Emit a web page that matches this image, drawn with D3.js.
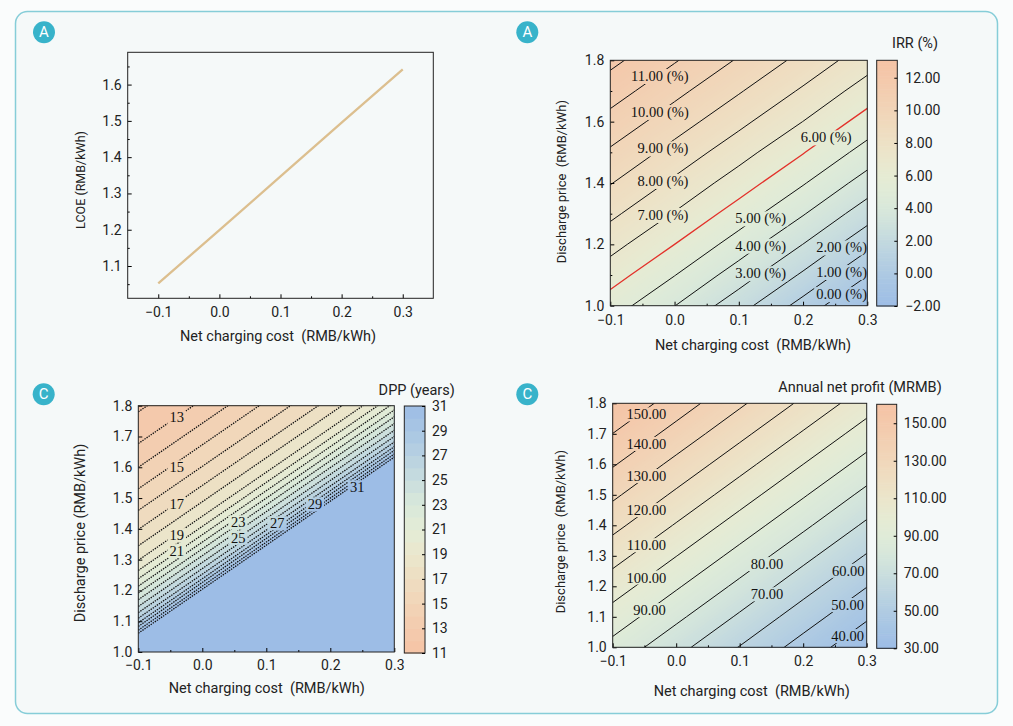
<!DOCTYPE html>
<html>
<head>
<meta charset="utf-8">
<script src="https://cdn.jsdelivr.net/npm/d3@7"></script>
<style>
  body { margin: 0; background: #fafcfc; }
  svg { display: block; font-family: Roboto, "Noto Sans", sans-serif; }
  .tick text { font-family: Roboto, "Noto Sans", sans-serif; font-size: 14px; fill: #222; }
  .clabel { font-family: "Liberation Serif", "DejaVu Serif", serif; font-size: 14.5px; fill: #111; }
  .atitle { font-size: 14.5px; fill: #222; white-space: pre; }
</style>
</head>
<body>
<svg id="fig" width="1013" height="726"></svg>
<script>
// ---------- data ----------
// panel A (left): LCOE vs net charging cost
const lcoeCost  = [-0.1, 0.0, 0.1, 0.2, 0.3];
const lcoeValue = [1.052, 1.199, 1.347, 1.495, 1.642];

// grid for the two smooth contour maps (rows = discharge price, cols = net charging cost)
const gridCost  = [-0.1, 0.0, 0.1, 0.2, 0.3];
const gridPrice = [1.0, 1.1, 1.2, 1.3, 1.4, 1.5, 1.6, 1.7, 1.8];

// IRR (%)
const irrGrid = [
  [ 5.50,  4.02, 2.40, 0.63, -1.26],
  [ 6.45,  5.03, 3.51, 1.85,  0.04],
  [ 7.36,  6.00, 4.55, 2.99,  1.28],
  [ 8.22,  6.94, 5.54, 4.07,  2.45],
  [ 9.05,  7.81, 6.50, 5.08,  3.56],
  [ 9.86,  8.65, 7.40, 6.05,  4.60],
  [10.66,  9.48, 8.26, 6.99,  5.59],
  [11.46, 10.28, 9.09, 7.86,  6.54],
  [12.26, 11.08, 9.90, 8.70,  7.44]
];
const irrLevels = [0, 1, 2, 3, 4, 5, 6, 7, 8, 9, 10, 11, 12];
const irrLabelLevel = [11, 10, 9, 8, 7, 6, 5, 4, 3, 2, 1, 0];
const irrLabelCost  = [-0.023, -0.023, -0.018, -0.018, -0.018, 0.236, 0.134, 0.134, 0.134, 0.260, 0.260, 0.260];
const irrLabelPrice = [1.749, 1.632, 1.513, 1.407, 1.296, 1.549, 1.285, 1.196, 1.106, 1.190, 1.110, 1.038];
const irrBarTicks = [-2, 0, 2, 4, 6, 8, 10, 12];

// Annual net profit (MRMB)
const profitGrid = [
  [ 86.8,  73.2,  59.6,  45.9,  32.3],
  [ 95.8,  82.2,  68.6,  54.9,  41.3],
  [104.8,  91.2,  77.6,  63.9,  50.3],
  [113.8, 100.2,  86.6,  72.9,  59.3],
  [122.9, 109.2,  95.6,  82.0,  68.3],
  [131.9, 118.2, 104.6,  91.0,  77.3],
  [140.9, 127.2, 113.6, 100.0,  86.4],
  [149.9, 136.3, 122.6, 109.0,  95.4],
  [158.9, 145.3, 131.6, 118.0, 104.4]
];
const profitLevels = [40, 50, 60, 70, 80, 90, 100, 110, 120, 130, 140, 150];
const profitLabelLevel = [150, 140, 130, 120, 110, 100, 90, 80, 70, 60, 50, 40];
const profitLabelCost  = [-0.047, -0.047, -0.047, -0.047, -0.047, -0.047, -0.042, 0.143, 0.143, 0.271, 0.270, 0.270];
const profitLabelPrice = [1.764, 1.667, 1.562, 1.450, 1.335, 1.229, 1.122, 1.273, 1.174, 1.251, 1.139, 1.037];
const profitBarTicks = [30, 50, 70, 90, 110, 130, 150];

// DPP (years): each contour as the price where it meets cost = -0.1 and cost = 0.3
const dppLevels  = [12, 13, 14, 15, 16, 17, 18, 19, 20, 21, 22, 23, 24, 25, 26, 27, 28, 29, 30, 31];
const dppAtLeft  = [1.780, 1.677, 1.600, 1.530, 1.460, 1.398, 1.345, 1.298, 1.265, 1.238,
                    1.214, 1.192, 1.170, 1.148, 1.128, 1.110, 1.095, 1.083, 1.071, 1.061];
const dppAtRight = [2.352, 2.249, 2.172, 2.102, 2.032, 1.970, 1.917, 1.870, 1.837, 1.810,
                    1.786, 1.764, 1.742, 1.720, 1.700, 1.682, 1.667, 1.655, 1.643, 1.633];
const dppLabelLevel = [13, 15, 17, 19, 21, 23, 25, 27, 29, 31];
const dppLabelCost  = [-0.040, -0.040, -0.040, -0.040, -0.040, 0.056, 0.056, 0.117, 0.176, 0.242];
const dppLabelPrice = [1.762, 1.600, 1.482, 1.380, 1.328, 1.421, 1.371, 1.418, 1.480, 1.535];
const dppBarTicks = [11, 13, 15, 17, 19, 21, 23, 25, 27, 29, 31];

// axis ticks
const costTicks  = [-0.1, 0.0, 0.1, 0.2, 0.3];
const costMinor  = [-0.05, 0.05, 0.15, 0.25];
const lcoeTicks  = [1.1, 1.2, 1.3, 1.4, 1.5, 1.6];
const lcoeMinor  = [1.05, 1.15, 1.25, 1.35, 1.45, 1.55, 1.65];
const priceTicks2 = [1.0, 1.2, 1.4, 1.6, 1.8];
const priceMinor2 = [1.1, 1.3, 1.5, 1.7];
const priceTicks1 = [1.0, 1.1, 1.2, 1.3, 1.4, 1.5, 1.6, 1.7, 1.8];

// ---------- drawing ----------
const W = 1013, H = 726;
const svg = d3.select("#fig");
const defs = svg.append("defs");
const ramp = d3.interpolateRgbBasis(["#9dbde6", "#abc8e3", "#c0d7e0", "#d6e7db", "#e4eed7",
                                     "#ece5ca", "#f0d9bc", "#f3cdb0", "#f5c3a5"]);
const f1 = d3.format(".1f"), f2 = d3.format(".2f"), fd = d3.format("d");

// card
svg.append("rect")
  .attr("x", 15.5).attr("y", 11.5).attr("width", 982).attr("height", 702).attr("rx", 12)
  .attr("fill", "#f5f9f9").attr("stroke", "#86cdd8").attr("stroke-width", 1.5);

function badge(cx, cy, letter) {
  svg.append("circle").attr("cx", cx).attr("cy", cy).attr("r", 11).attr("fill", "#38b3ca");
  svg.append("text").attr("x", cx).attr("y", cy + 5).attr("text-anchor", "middle")
    .style("font-size", "15px").style("fill", "#fff").text(letter);
}

function addAxes(x, y, o) {
  const g = svg.append("g");
  const bottom = y.range()[0], left = x.range()[0];
  const clean = s => s.select(".domain").remove();
  g.append("g").attr("transform", `translate(0,${bottom})`)
    .call(d3.axisBottom(x).tickValues(o.xMinor).tickSize(-2).tickFormat("")).call(clean);
  g.append("g").attr("transform", `translate(0,${bottom})`)
    .call(d3.axisBottom(x).tickValues(o.xTicks).tickSize(-4).tickPadding(o.xPad).tickFormat(f1)).call(clean);
  if (o.yMinor) {
    g.append("g").attr("transform", `translate(${left},0)`)
      .call(d3.axisLeft(y).tickValues(o.yMinor).tickSize(-2).tickFormat("")).call(clean);
  }
  g.append("g").attr("transform", `translate(${left},0)`)
    .call(d3.axisLeft(y).tickValues(o.yTicks).tickSize(-4).tickPadding(6).tickFormat(f1)).call(clean);
  g.append("rect")
    .attr("x", left).attr("y", y.range()[1])
    .attr("width", x.range()[1] - left).attr("height", bottom - y.range()[1])
    .attr("fill", "none").attr("stroke", "#222").attr("stroke-width", 1);
  // titles
  svg.append("text").attr("class", "atitle").attr("x", o.xTitle[0]).attr("y", o.xTitle[1])
    .attr("text-anchor", "middle").text("Net charging cost  (RMB/kWh)");
  svg.append("text").attr("class", "atitle")
    .attr("transform", `translate(${o.yTitle[0]},${o.yTitle[1]}) rotate(-90)`)
    .attr("text-anchor", "middle").attr("dy", "0.35em")
    .style("font-size", o.yTitleSize + "px").text(o.yTitleText);
}

function colorbar(o) {
  const s = d3.scaleLinear().domain(o.domain).range([o.bottom, o.top]);
  const g = svg.append("g");
  const starts = d3.range(o.domain[0], o.domain[1], o.step);
  g.selectAll("rect.cb").data(starts).join("rect")
    .attr("x", o.left).attr("width", o.right - o.left)
    .attr("y", v => s(Math.min(v + o.step, o.domain[1])))
    .attr("height", v => s(v) - s(Math.min(v + o.step, o.domain[1])) + 0.6)
    .attr("fill", v => o.color(v + o.step / 2));
  g.append("rect").attr("x", o.left).attr("y", o.top)
    .attr("width", o.right - o.left).attr("height", o.bottom - o.top)
    .attr("fill", "none").attr("stroke", "#222");
  g.append("g").attr("transform", `translate(${o.right},0)`)
    .call(d3.axisRight(s).tickValues(o.ticks).tickSize(-3).tickPadding(o.pad).tickFormat(o.fmt))
    .call(sel => sel.select(".domain").remove());
  svg.append("text").attr("class", "atitle").attr("x", o.title[0]).attr("y", o.title[1])
    .attr("text-anchor", "middle").text(o.title[2]);
}

function clipFor(id, x, y) {
  defs.append("clipPath").attr("id", id).append("rect")
    .attr("x", x.range()[0]).attr("y", y.range()[1])
    .attr("width", x.range()[1] - x.range()[0]).attr("height", y.range()[0] - y.range()[1]);
  return `url(#${id})`;
}

// contour labels + mask that cuts gaps in the lines under them
function contourLabels(id, x, y, levels, costs, prices, fmt) {
  const g = svg.append("g");
  const texts = g.selectAll("text").data(levels).join("text")
    .attr("class", "clabel")
    .attr("x", (d, i) => x(costs[i])).attr("y", (d, i) => y(prices[i]))
    .attr("text-anchor", "middle").attr("dy", "0.35em")
    .text(fmt);
  const mask = defs.append("mask").attr("id", id).attr("maskUnits", "userSpaceOnUse")
    .attr("x", 0).attr("y", 0).attr("width", W).attr("height", H);
  mask.append("rect").attr("width", W).attr("height", H).attr("fill", "#fff");
  texts.each(function () {
    const b = this.getBBox();
    mask.append("rect").attr("x", b.x - 2).attr("y", b.y + 1)
      .attr("width", b.width + 4).attr("height", b.height - 2).attr("fill", "#000");
  });
  return `url(#${id})`;
}

// ---- Panel A (left): LCOE line ----
(function () {
  const x = d3.scaleLinear().domain([-0.15, 0.35]).range([127.7, 433.3]);
  const y = d3.scaleLinear().domain([1.011, 1.689]).range([298.3, 52.3]);
  badge(44, 32.3, "A");
  const line = d3.line().x((d, i) => x(lcoeCost[i])).y(d => y(d));
  svg.append("path").datum(lcoeValue).attr("d", line)
    .attr("fill", "none").attr("stroke", "#dcbf8f").attr("stroke-width", 2.3);
  addAxes(x, y, {
    xTicks: costTicks, xMinor: costMinor, yTicks: lcoeTicks, yMinor: lcoeMinor, xPad: 9,
    xTitle: [278, 341], yTitle: [81, 180], yTitleSize: 12.5, yTitleText: "LCOE (RMB/kWh)"
  });
})();

// ---- smooth contour map from a grid ----
function gridPanel(o) {
  const x = d3.scaleLinear().domain([-0.1, 0.3]).range([o.left, o.right]);
  const y = d3.scaleLinear().domain([1.0, 1.8]).range([o.bottom, o.top]);
  const [lo, hi] = o.cbDomain;
  const color = v => ramp((v - lo) / (hi - lo));
  const nx = gridCost.length, ny = gridPrice.length;
  const stepC = (gridCost[nx - 1] - gridCost[0]) / (nx - 1);
  const stepP = (gridPrice[ny - 1] - gridPrice[0]) / (ny - 1);
  const path = d3.geoPath(d3.geoTransform({
    point: function (px, py) {
      this.stream.point(x(gridCost[0] + (px - 0.5) * stepC), y(gridPrice[0] + (py - 0.5) * stepP));
    }
  }));
  const values = o.grid.flat();
  const gen = d3.contours().size([nx, ny]);

  badge(o.badge[0], o.badge[1], o.badge[2]);
  const plot = svg.append("g").attr("clip-path", clipFor(o.id + "-clip", x, y));
  const bands = d3.range(lo, hi, o.fineStep);
  plot.selectAll("path.band").data(bands).join("path")
    .attr("d", t => path(gen.contour(values, t)))
    .attr("fill", t => color(t + o.fineStep / 2));
  const lines = plot.append("g");
  lines.selectAll("path").data(o.levels).join("path")
    .attr("d", t => path(gen.contour(values, t)))
    .attr("fill", "none")
    .attr("stroke", t => t === o.red ? "#e3312a" : "#111")
    .attr("stroke-width", t => t === o.red ? 1.3 : 1);
  lines.attr("mask", contourLabels(o.id + "-mask", x, y, o.labLevel, o.labCost, o.labPrice, o.labFmt));

  addAxes(x, y, {
    xTicks: costTicks, xMinor: costMinor, yTicks: o.yTicks, yMinor: o.yMinor, xPad: 9,
    xTitle: o.xTitle, yTitle: o.yTitle, yTitleSize: 13, yTitleText: "Discharge price  (RMB/kWh)"
  });
  colorbar(Object.assign({ color: color, step: o.fineStep }, o.bar));
}

// ---- Panel A (right): IRR ----
gridPanel({
  id: "irr", left: 610.3, right: 867.3, top: 60.3, bottom: 305.7,
  grid: irrGrid, levels: irrLevels, red: 6, cbDomain: [-2, 13.07], fineStep: 0.1,
  labLevel: irrLabelLevel, labCost: irrLabelCost, labPrice: irrLabelPrice, labFmt: d => f2(d) + " (%)",
  yTicks: priceTicks2, yMinor: priceMinor2,
  xTitle: [753, 350], yTitle: [561.7, 181.7], badge: [527.3, 32.3, "A"],
  bar: { left: 876.7, right: 897.3, top: 60.3, bottom: 306, domain: [-2, 13.07],
         ticks: irrBarTicks, fmt: f2, pad: 8, title: [915, 48, "IRR (%)"] }
});

// ---- Panel C (right): annual net profit ----
gridPanel({
  id: "profit", left: 612.7, right: 866.7, top: 403.3, bottom: 647.3,
  grid: profitGrid, levels: profitLevels, red: null, cbDomain: [30, 160.1], fineStep: 1,
  labLevel: profitLabelLevel, labCost: profitLabelCost, labPrice: profitLabelPrice, labFmt: f2,
  yTicks: priceTicks1, yMinor: null,
  xTitle: [751.7, 696], yTitle: [560, 531.7], badge: [527.3, 394.3, "C"],
  bar: { left: 876.7, right: 896.7, top: 404.3, bottom: 648.3, domain: [30, 160.1],
         ticks: profitBarTicks, fmt: f2, pad: 7, title: [860, 392, "Annual net profit (MRMB)"] }
});

// ---- Panel C (left): DPP ----
(function () {
  const x = d3.scaleLinear().domain([-0.1, 0.3]).range([138.3, 394.3]);
  const y = d3.scaleLinear().domain([1.0, 1.8]).range([652, 405.7]);
  const lo = 11, hi = 31;
  const color = v => ramp((hi - v) / (hi - lo));
  const c0 = x.domain()[0], c1 = x.domain()[1];
  const topP = d3.max(dppAtRight);
  const line = d3.line().x(d => x(d[0])).y(d => y(d[1]));

  badge(43.7, 394.3, "C");
  const plot = svg.append("g").attr("clip-path", clipFor("dpp-clip", x, y));
  plot.append("rect").attr("x", x(c0)).attr("y", y(1.8))
    .attr("width", x(c1) - x(c0)).attr("height", y(1.0) - y(1.8)).attr("fill", color(hi));
  const idx = d3.range(dppLevels.length).reverse();
  plot.selectAll("path.band").data(idx).join("path")
    .attr("d", i => line([[c0, dppAtLeft[i]], [c1, dppAtRight[i]], [c1, topP], [c0, topP]]) + "Z")
    .attr("fill", i => color(dppLevels[i] - 0.5));
  const lines = plot.append("g");
  lines.selectAll("path").data(idx).join("path")
    .attr("d", i => line([[c0, dppAtLeft[i]], [c1, dppAtRight[i]]]))
    .attr("fill", "none").attr("stroke", "#111").attr("stroke-width", 1.3)
    .attr("stroke-dasharray", "1.4 1.1");
  lines.attr("mask", contourLabels("dpp-mask", x, y, dppLabelLevel, dppLabelCost, dppLabelPrice, fd));

  addAxes(x, y, {
    xTicks: costTicks, xMinor: costMinor, yTicks: priceTicks1, yMinor: null, xPad: 8,
    xTitle: [266.7, 693], yTitle: [80, 533], yTitleSize: 14.5, yTitleText: "Discharge price (RMB/kWh)"
  });
  colorbar({ left: 404.3, right: 425, top: 406, bottom: 653, domain: [lo, hi], step: 1,
             color: color, ticks: dppBarTicks, fmt: fd, pad: 7, title: [416.7, 395, "DPP (years)"] });
})();
</script>
</body>
</html>
